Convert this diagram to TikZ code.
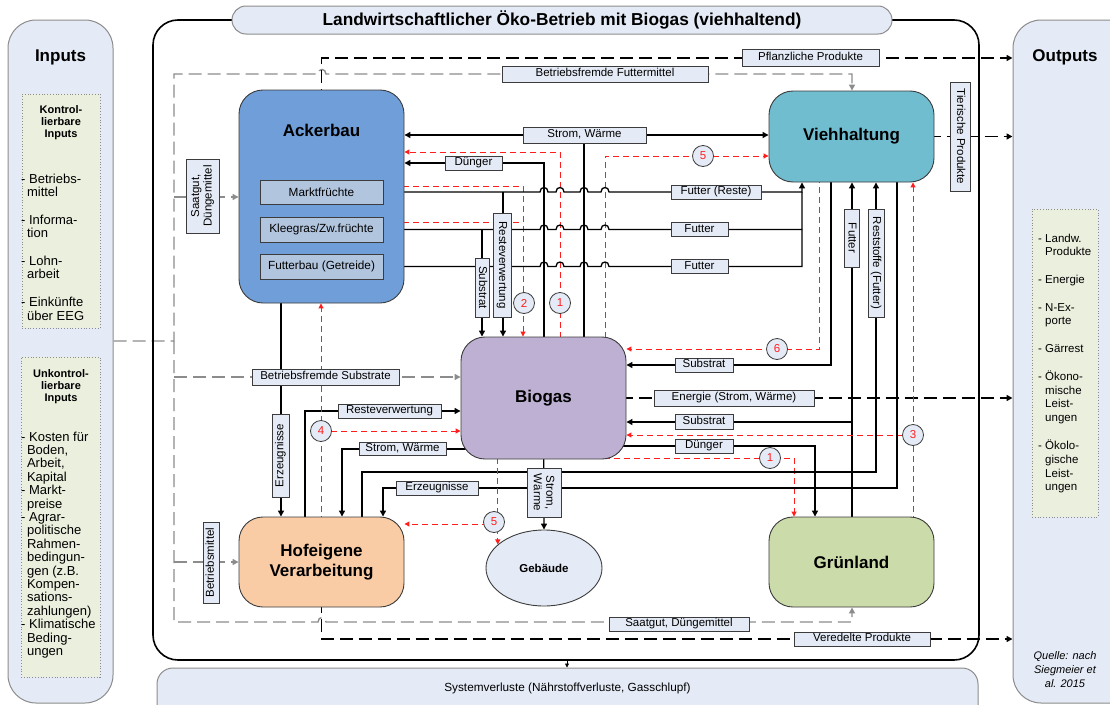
\documentclass[tikz,border=0pt]{standalone}
\usepackage{fontspec}
\setmainfont{Liberation Sans}
\usetikzlibrary{arrows.meta,shapes.geometric}
\pgfdeclarelayer{back}
\pgfdeclarelayer{bg}
\pgfsetlayers{back,bg,main}
\definecolor{lb}{RGB}{229,235,246}
\definecolor{lg}{RGB}{235,239,222}
\definecolor{ackc}{RGB}{111,158,216}
\definecolor{subc}{RGB}{178,197,222}
\definecolor{viehc}{RGB}{112,189,208}
\definecolor{bioc}{RGB}{190,176,210}
\definecolor{hofc}{RGB}{250,204,166}
\definecolor{gruenc}{RGB}{203,219,170}
\definecolor{grl}{RGB}{140,140,140}
\definecolor{brd}{RGB}{60,60,60}
\definecolor{rdl}{RGB}{255,30,30}
\newcommand\hop[2]{-- ({#1-4},#2) .. controls ({#1-4},{#2-6}) and ({#1+4},{#2-6}) .. ({#1+4},#2)}
\begin{document}
\begin{tikzpicture}[x=1pt,y=-1pt]
\tikzset{
 panel/.style={rectangle,rounded corners=28pt,draw=grl,line width=1pt,fill=lb,inner sep=0pt},
 listbox/.style={rectangle,draw=grl,dotted,line width=0.8pt,fill=lg,inner sep=0pt},
 mnode/.style={rectangle,rounded corners=24pt,draw=brd,line width=0.9pt,inner sep=0pt,font=\fontsize{17}{20}\selectfont\bfseries,align=center},
 subbox/.style={rectangle,draw=brd,line width=0.8pt,fill=subc,inner sep=0pt,minimum width=123pt,font=\fontsize{11.8}{13}\selectfont},
 lbl/.style={rectangle,draw=brd,line width=0.8pt,fill=lb,inner sep=0pt,text height=8.3pt,text depth=2.5pt,font=\fontsize{11.5}{12.5}\selectfont},
 lbltwo/.style={rectangle,draw=brd,line width=0.8pt,fill=lb,inner sep=0pt,align=center,font=\fontsize{11.5}{12.5}\selectfont},
 circ/.style={circle,draw=brd,line width=0.8pt,fill=lb,minimum size=21pt,inner sep=0pt,text=rdl,font=\fontsize{11.5}{12}\selectfont},
 blk/.style={draw=black,line width=1.3pt},
 rd/.style={draw=rdl,line width=1pt,dash pattern=on 6pt off 4pt},
 gr/.style={draw=grl,line width=1.4pt,dash pattern=on 13pt off 6pt},
 bd/.style={draw=black,line width=1.7pt,dash pattern=on 13pt off 6pt},
 arr/.style={-{Triangle[length=6pt,width=6pt]}},
 rarr/.style={-{Triangle[length=5pt,width=5pt]}},
}
\useasboundingbox (0,0) rectangle (1110,704);
\begin{pgfonlayer}{back}
\fill[white] (0,0) rectangle (1110,704);
\end{pgfonlayer}

% panels
\node[panel,minimum width=105pt,minimum height=683pt] (inp) at (60.5,361.5) {};
\node[font=\fontsize{17}{20}\selectfont\bfseries] (inpt) at (60.5,57) {Inputs};
\node[listbox,minimum width=78pt,minimum height=234pt] (kbox) at (61,211) {};
\node[listbox,minimum width=79pt,minimum height=320pt] (ubox) at (60.5,517) {};
\node[anchor=base,inner sep=0pt] (khead) at (61,113) {\parbox[t]{76pt}{\centering\bfseries\fontsize{11}{12.3}\selectfont Kontrol-\\lierbare\\Inputs}};
\node[anchor=base west,inner sep=0pt] (klist) at (21,183) {\parbox[t]{82pt}{\raggedright\fontsize{13}{13.7}\selectfont
- Betriebs-\\\hspace*{0.45em}mittel\\[13.7pt]
- Informa-\\\hspace*{0.45em}tion\\[13.7pt]
- Lohn-\\\hspace*{0.45em}arbeit\\[13.7pt]
- Einkünfte\\\hspace*{0.45em}über EEG}};
\node[anchor=base,inner sep=0pt] (uhead) at (61,377) {\parbox[t]{76pt}{\centering\bfseries\fontsize{11}{12}\selectfont Unkontrol-\\lierbare\\Inputs}};
\node[anchor=base west,inner sep=0pt] (ulist) at (21,441) {\parbox[t]{82pt}{\raggedright\fontsize{13}{13.4}\selectfont
- Kosten für\\\hspace*{0.45em}Boden,\\\hspace*{0.45em}Arbeit,\\\hspace*{0.45em}Kapital\\
- Markt-\\\hspace*{0.45em}preise\\
- Agrar-\\\hspace*{0.45em}politische\\\hspace*{0.45em}Rahmen-\\\hspace*{0.45em}bedingun-\\\hspace*{0.45em}gen (z.B.\\\hspace*{0.45em}Kompen-\\\hspace*{0.45em}sations-\\\hspace*{0.45em}zahlungen)\\
- Klimatische\\\hspace*{0.45em}Beding-\\\hspace*{0.45em}ungen}};

\node[panel,minimum width=140pt,minimum height=683pt] (outp) at (1083,361.5) {};
\node[font=\fontsize{17}{20}\selectfont\bfseries] (outpt) at (1065,57) {Outputs};
\node[listbox,minimum width=66pt,minimum height=308pt] (obox) at (1065,363) {};
\node[anchor=base west,inner sep=0pt] (olist) at (1038,242) {\parbox[t]{62pt}{\raggedright\fontsize{11.5}{13.83}\selectfont
- Landw.\\\phantom{- }Produkte\\[13.83pt]
- Energie\\[13.83pt]
- N-Ex-\\\phantom{- }porte\\[13.83pt]
- Gärrest\\[13.83pt]
- Ökono-\\\phantom{- }mische\\\phantom{- }Leist-\\\phantom{- }ungen\\[13.83pt]
- Ökolo-\\\phantom{- }gische\\\phantom{- }Leist-\\\phantom{- }ungen}};
\node[anchor=base,inner sep=0pt] (quelle) at (1065,659) {\parbox[t]{80pt}{\centering\itshape\fontsize{11}{14}\selectfont Quelle: nach\\Siegmeier et\\al. 2015}};

% main frame
\node[rectangle,rounded corners=25pt,draw=black,line width=1.6pt,minimum width=826pt,minimum height=640pt,inner sep=0pt] (mainb) at (566,340) {};
\node[rectangle,rounded corners=14pt,draw=grl,line width=1pt,fill=lb,minimum width=660pt,minimum height=28pt,inner sep=0pt,font=\fontsize{17.3}{19}\selectfont\bfseries] (title) at (562,20) {Landwirtschaftlicher Öko-Betrieb mit Biogas (viehhaltend)};
\node[rectangle,rounded corners=16pt,draw=grl,line width=1pt,fill=lb,minimum width=821pt,minimum height=60pt,inner sep=0pt] (sysv) at (567.5,698) {};
\node[font=\fontsize{11.8}{13}\selectfont] (sysvt) at (567.5,688) {Systemverluste (Nährstoffverluste, Gasschlupf)};

% main nodes
\node[mnode,fill=ackc,minimum width=165pt,minimum height=213pt] (ack) at (321.5,196.5) {};
\node[font=\fontsize{17}{20}\selectfont\bfseries] (ackt) at (321.5,130) {Ackerbau};
\node[subbox,minimum height=24pt] (markt) at (321.5,192) {Marktfrüchte};
\node[subbox,minimum height=25pt] (klee) at (321.5,229.5) {Kleegras/Zw.früchte};
\node[subbox,minimum height=25pt] (futb) at (321.5,266.5) {Futterbau (Getreide)};
\node[mnode,fill=viehc,minimum width=165pt,minimum height=91pt] (vieh) at (851.5,136.5) {Viehhaltung};
\node[mnode,fill=bioc,minimum width=165pt,minimum height=122pt] (bio) at (543.5,398) {Biogas};
\node[mnode,fill=hofc,minimum width=165pt,minimum height=90pt] (hof) at (321.5,562) {Hofeigene\\Verarbeitung};
\node[mnode,fill=gruenc,minimum width=165pt,minimum height=90pt] (gruen) at (851.5,562) {Grünland};
\node[ellipse,draw=brd,line width=0.9pt,fill=lb,minimum width=116pt,minimum height=76pt,inner sep=0pt,font=\fontsize{11.5}{13}\selectfont\bfseries] (geb) at (544,568) {Gebäude};

% labels
\node[lbl,minimum width=137pt,minimum height=17pt] (pflz) at (810.5,58) {Pflanzliche Produkte};
\node[lbl,minimum width=206pt,minimum height=16pt] (bfut) at (605,74) {Betriebsfremde Futtermittel};
\node[lbl,minimum width=123pt,minimum height=16pt] (swa) at (584.5,135) {Strom, Wärme};
\node[lbl,minimum width=57pt,minimum height=14pt] (dga) at (473.5,163) {Dünger};
\node[lbl,minimum width=90pt,minimum height=14pt] (fr) at (716,192) {Futter (Reste)};
\node[lbl,minimum width=57pt,minimum height=14pt] (fua) at (699.5,229.5) {Futter};
\node[lbl,minimum width=57pt,minimum height=14pt] (fub) at (699.5,266.5) {Futter};
\node[lbl,minimum width=58pt,minimum height=14pt] (suba) at (704,365) {Substrat};
\node[lbl,minimum width=160pt,minimum height=16pt] (ene) at (734,398) {Energie (Strom, Wärme)};
\node[lbl,minimum width=58pt,minimum height=15pt] (subb) at (704,422) {Substrat};
\node[lbl,minimum width=58pt,minimum height=14pt] (dgb) at (704,446) {Dünger};
\node[lbl,minimum width=147pt,minimum height=16pt] (bsub) at (325.5,377) {Betriebsfremde Substrate};
\node[lbl,minimum width=103pt,minimum height=14pt] (rvb) at (389.5,411) {Resteverwertung};
\node[lbl,minimum width=87pt,minimum height=13pt] (swb) at (402.5,449) {Strom, Wärme};
\node[lbl,minimum width=82pt,minimum height=14pt] (erzb) at (437,488) {Erzeugnisse};
\node[lbl,minimum width=140pt,minimum height=14pt] (sdgb) at (679,624) {Saatgut, Düngemittel};
\node[lbl,minimum width=136pt,minimum height=14pt] (vered) at (862,639) {Veredelte Produkte};
\node[lbltwo,rotate=90,minimum width=74pt,minimum height=33pt] (sdga) at (202.5,196) {Saatgut,\\Düngemittel};
\node[lbl,rotate=90,minimum width=81pt,minimum height=16pt] (bm) at (211,562.5) {Betriebsmittel};
\node[lbl,rotate=90,minimum width=83pt,minimum height=17pt] (erza) at (280.5,455.5) {Erzeugnisse};
\node[lbl,rotate=-90,minimum width=104pt,minimum height=18pt] (rva) at (502,265) {Resteverwertung};
\node[lbl,rotate=-90,minimum width=59pt,minimum height=14pt] (subc) at (482,287.5) {Substrat};
\node[lbl,rotate=-90,minimum width=58pt,minimum height=15pt] (fuc) at (851.5,238) {Futter};
\node[lbl,rotate=-90,minimum width=108pt,minimum height=16pt] (rst) at (876,263) {Reststoffe (Futter)};
\node[lbl,rotate=-90,minimum width=109pt,minimum height=20pt] (tier) at (960,136.5) {Tierische Produkte};
\node[lbltwo,rotate=-90,minimum width=49pt,minimum height=34pt] (swc) at (544,492.5) {Strom,\\Wärme};

% circles
\node[circ] (cia) at (560,303) {1};
\node[circ] (cii) at (524,303) {2};
\node[circ] (cva) at (703,156) {5};
\node[circ] (cvi) at (777,349) {6};
\node[circ] (ciii) at (913,435) {3};
\node[circ] (cib) at (770,458) {1};
\node[circ] (civ) at (321,431) {4};
\node[circ] (cvb) at (494,522) {5};

% junctions
\coordinate (jsw) at (584,135);
\coordinate (jrv) at (503,192);
\coordinate (jsb) at (482,229.5);
\coordinate (jfa) at (802,192);
\coordinate (jfb) at (802,229.5);
\coordinate (jfc) at (852,422);
\coordinate (jr3) at (913,435);
\coordinate (jr4) at (321,431);
\coordinate (jr5) at (498,524);
\coordinate (jr2) at (523,222);
\coordinate (gin) at (174,341);
\coordinate (gsa) at (174,197);
\coordinate (gsu) at (174,377);
\coordinate (gbm) at (174,562);

\begin{pgfonlayer}{bg}
% gray dashed inputs
\draw[gr,arr] (inp.east |- gin) -- (gin) -- (174,74) \hop{322}{74} -- (852,74) -- (vieh.north -| 852,0);
\draw[gr,arr] (gin) -- (174,622) \hop{322}{622} -- (852,622) -- (gruen.south -| 852,0);
\draw[gr,arr] (gsa) -- (ack.west |- gsa);
\draw[gr,arr] (gsu) -- (bio.west |- gsu);
\draw[gr,arr] (gbm) -- (hof.west |- gbm);
% black dashed outputs
\draw[bd,arr] (ack.center) -- (ack.center |- 0,58) -- (outp.west |- 0,58);
\draw[bd,arr] (vieh.center) -- (outp.west |- vieh.center);
\draw[bd,arr] (bio.center) -- (outp.west |- bio.center);
\draw[bd,arr] (hof.center) -- (hof.center |- 0,639) -- (outp.west |- 0,639);
\draw[line width=0.8pt,-{Triangle[length=4pt,width=4pt]}] (mainb.south -| 567,0) -- (sysv.north -| 567,0);
% Biogas -> Ackerbau / Viehhaltung
\draw[blk] (bio.center -| jsw) -- (jsw);
\draw[blk,arr] (jsw) -- (ack.east |- jsw);
\draw[blk,arr] (jsw) -- (vieh.west |- jsw);
\draw[blk,arr] (bio.center -| 544,0) -- (544,163) -- (ack.east |- 0,163);
\draw[rd,rarr] (bio.center -| 560,0) -- (560,152) -- (ack.east |- 0,152);
\draw[rd,rarr] (bio.center -| 605,0) -- (605,156) -- (vieh.west |- 0,156);
% Ackerbau -> Biogas (red 2)
\draw[rd,rarr] (markt.east |- 0,186) -- (523,186) -- (bio.north -| 523,0);
\draw[rd] (klee.east |- jr2) -- (jr2);
% Ackerbau -> Viehhaltung
\draw[blk,arr] (markt.east) \hop{544}{192} \hop{560}{192} \hop{584}{192} \hop{605}{192} -- (jfa) -- (vieh.south -| jfa);
\draw[blk] (klee.east) \hop{544}{229.5} \hop{560}{229.5} \hop{584}{229.5} \hop{605}{229.5} -- (jfb) -- (jfa);
\draw[blk] (futb.east) \hop{544}{266.5} \hop{560}{266.5} \hop{584}{266.5} \hop{605}{266.5} -- (802,266.5) -- (jfb);
\draw[blk,arr] (jrv) -- (bio.north -| jrv);
\draw[blk,arr] (jsb) -- (bio.north -| jsb);
% Viehhaltung <-> Biogas
\draw[rd,rarr] (vieh.center -| 819,0) -- (819,349) -- (bio.east |- 0,349);
\draw[blk,arr] (vieh.center -| 831,0) -- (831,365) -- (bio.east |- 0,365);
\draw[blk,arr] (gruen.center -| jfc) -- (vieh.south -| jfc);
\draw[blk,arr] (jfc) -- (bio.east |- jfc);
\draw[rd,rarr] (gruen.center -| jr3) -- (vieh.south -| jr3);
\draw[rd,rarr] (jr3) -- (bio.east |- jr3);
\draw[blk,arr] (bio.center |- 0,446) -- (815,446) -- (gruen.north -| 815,0);
\draw[rd,rarr] (bio.center |- 0,458) -- (794,458) -- (gruen.north -| 794,0);
% Hofeigene links
\draw[blk,arr] (hof.center -| 362,0) -- (362,472) -- (876,472) -- (vieh.south -| 876,0);
\draw[blk,arr] (vieh.center -| 897,0) -- (897,488) -- (383,488) -- (hof.north -| 383,0);
\draw[blk,arr] (ack.center -| 281,0) -- (hof.north -| 281,0);
\draw[blk,arr] (hof.center -| 305,0) -- (305,411) -- (bio.west |- 0,411);
\draw[rd,rarr] (hof.center -| jr4) -- (ack.south -| jr4);
\draw[rd,rarr] (jr4) -- (bio.west |- jr4);
\draw[blk,arr] (bio.center |- 0,449) -- (342,449) -- (hof.north -| 342,0);
% Gebaeude
\draw[blk,arr] (bio.center) -- (geb.north);
\draw[rd,rarr] (bio.center -| geb.153) -- (geb.153);
\draw[rd,rarr] (jr5) -- (hof.east |- jr5);
\end{pgfonlayer}
\end{tikzpicture}
\end{document}
